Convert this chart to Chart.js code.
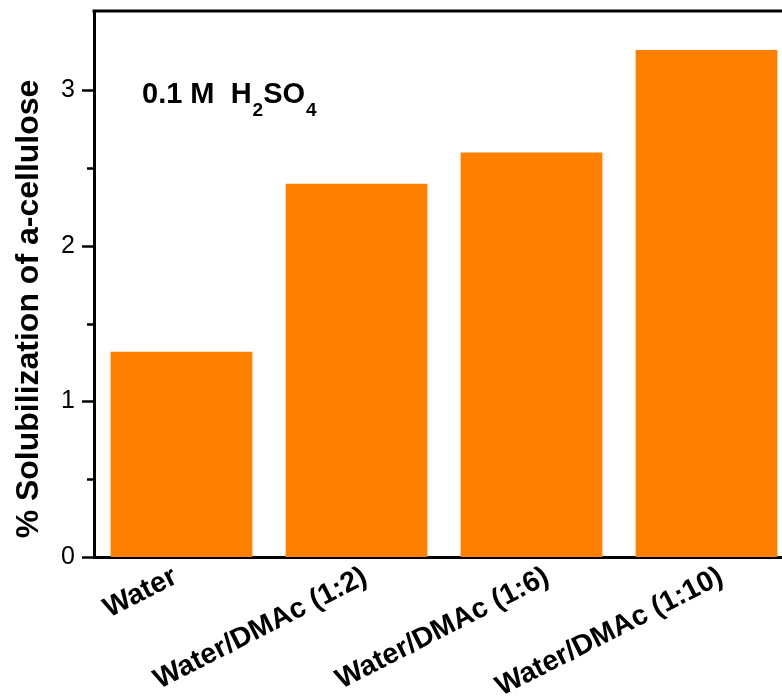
<!DOCTYPE html>
<html>
<head>
<meta charset="utf-8">
<script src="https://cdn.jsdelivr.net/npm/chart.js@4/dist/chart.umd.min.js"></script>
<style>
  html, body { margin: 0; padding: 0; background: #fff; overflow: hidden; }
  #wrap { width: 800px; height: 698px; }
</style>
</head>
<body>
<div id="wrap"><canvas id="c" width="800" height="698"></canvas></div>
<script>
// Solvent systems and measured solubilization (%)
const categories = ['Water', 'Water/DMAc (1:2)', 'Water/DMAc (1:6)', 'Water/DMAc (1:10)'];
const solubilization = [1.32, 2.40, 2.60, 3.26];
const yTickValues = [0, 1, 2, 3];

const FONT = '"Liberation Sans", Arial, Helvetica, sans-serif';

// Axis decorations: major/minor ticks on the y axis, frame top line,
// slanted category labels, rotated y title and the acid annotation.
const decorations = {
  id: 'decorations',
  afterDraw(chart) {
    const ctx = chart.ctx;
    const area = chart.chartArea;
    const y = chart.scales.y;
    const x = chart.scales.x;
    ctx.save();
    ctx.strokeStyle = '#000';
    ctx.fillStyle = '#000';
    ctx.lineCap = 'butt';

    // ticks: long at integers, short at halves
    ctx.lineWidth = 2.5;
    y.ticks.forEach(t => {
      if (!Number.isInteger(t.value * 2)) return;
      const py = Math.round(y.getPixelForValue(t.value)) + 0.5;
      const len = Number.isInteger(t.value) ? 12 : 7;
      ctx.beginPath();
      ctx.moveTo(area.left - len, py);
      ctx.lineTo(area.left, py);
      ctx.stroke();
    });

    // top frame line
    ctx.lineWidth = 3;
    ctx.beginPath();
    ctx.moveTo(area.left - 1.5, area.top);
    ctx.lineTo(area.right, area.top);
    ctx.stroke();

    // category labels, slanted, right end hanging under each bar
    const nudge = [-12, 3, 10, 9];
    const angle = -27 * Math.PI / 180;
    ctx.font = 'bold 28.5px ' + FONT;
    ctx.textAlign = 'right';
    ctx.textBaseline = 'alphabetic';
    categories.forEach((lab, i) => {
      ctx.save();
      ctx.translate(x.getPixelForValue(i) + nudge[i], area.bottom + 7);
      ctx.rotate(angle);
      ctx.fillText(lab, 0, 20.5);
      ctx.restore();
    });

    // y axis title
    ctx.save();
    ctx.translate(38, 309);
    ctx.rotate(-Math.PI / 2);
    ctx.font = 'bold 32px ' + FONT;
    ctx.textAlign = 'center';
    ctx.fillText('% Solubilization of a-cellulose', 0, 0);
    ctx.restore();

    // annotation: 0.1 M  H2SO4
    const parts = [
      { t: '0.1 M  H', sub: false },
      { t: '2', sub: true },
      { t: 'SO', sub: false },
      { t: '4', sub: true }
    ];
    let px = 142;
    const base = 103;
    ctx.textAlign = 'left';
    parts.forEach(p => {
      ctx.font = (p.sub ? 'bold 19px ' : 'bold 29px ') + FONT;
      ctx.fillText(p.t, px, p.sub ? base + 13 : base);
      px += ctx.measureText(p.t).width + (p.sub ? 0 : 1);
    });
    ctx.restore();
  }
};

new Chart(document.getElementById('c'), {
  type: 'bar',
  data: {
    labels: categories,
    datasets: [{
      data: solubilization,
      backgroundColor: '#FF8000',
      borderWidth: 0,
      barPercentage: 0.81,
      categoryPercentage: 1.0
    }]
  },
  options: {
    responsive: false,
    devicePixelRatio: 1,
    animation: false,
    layout: { padding: { top: 11, right: 6, left: 0, bottom: 0 } },
    plugins: { legend: { display: false }, tooltip: { enabled: false } },
    scales: {
      x: {
        grid: { display: false, drawTicks: false },
        border: { display: true, color: '#000', width: 3 },
        ticks: { display: false },
        afterFit(s) {
          s.height = 141;
          s.paddingLeft = 0;
          s.paddingRight = 0;
        }
      },
      y: {
        min: 0,
        max: 3.51,
        grid: { display: false, drawTicks: false },
        border: { display: true, color: '#000', width: 3 },
        ticks: {
          stepSize: 0.5,
          color: '#000',
          font: { family: FONT, size: 25 },
          padding: 19,
          callback: v => (yTickValues.includes(v) ? String(v) : '')
        },
        afterFit(s) {
          s.width = 94;
          s.paddingTop = 0;
          s.paddingBottom = 0;
        }
      }
    }
  },
  plugins: [decorations]
});
</script>
</body>
</html>
